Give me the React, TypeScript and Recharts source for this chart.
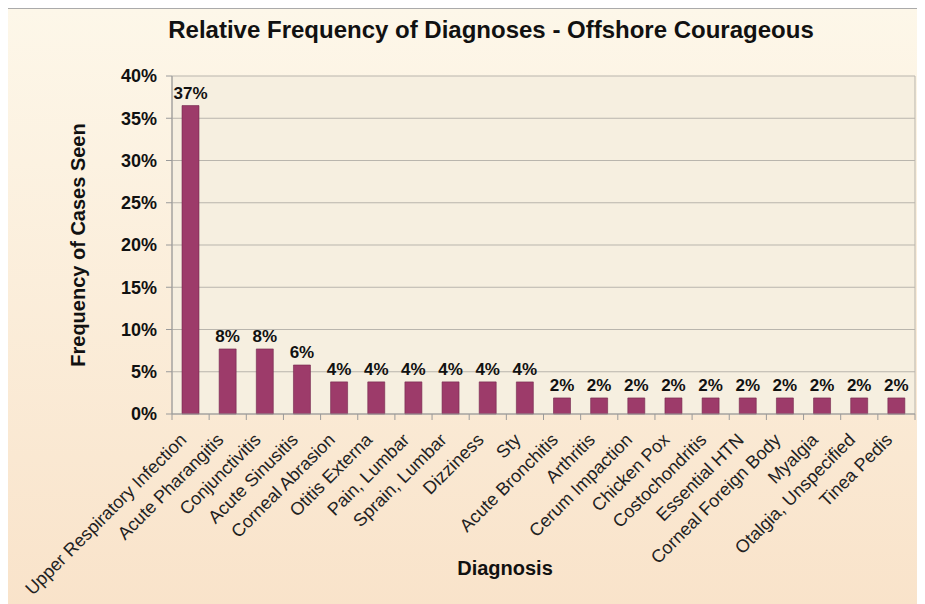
import { BarChart, Bar, XAxis, YAxis, CartesianGrid, LabelList, Label } from "recharts";

const diagnoses = [
  "Upper Respiratory Infection",
  "Acute Pharangitis",
  "Conjunctivitis",
  "Acute Sinusitis",
  "Corneal Abrasion",
  "Otitis Externa",
  "Pain, Lumbar",
  "Sprain, Lumbar",
  "Dizziness",
  "Sty",
  "Acute Bronchitis",
  "Arthritis",
  "Cerum Impaction",
  "Chicken Pox",
  "Costochondritis",
  "Essential HTN",
  "Corneal Foreign Body",
  "Myalgia",
  "Otalgia, Unspecified",
  "Tinea Pedis",
];

const frequency = [
  0.365, 0.077, 0.077, 0.058, 0.038, 0.038, 0.038, 0.038, 0.038, 0.038,
  0.019, 0.019, 0.019, 0.019, 0.019, 0.019, 0.019, 0.019, 0.019, 0.019,
];

const yTicks = [0, 0.05, 0.1, 0.15, 0.2, 0.25, 0.3, 0.35, 0.4];

const data = diagnoses.map((name, i) => ({ name, value: frequency[i] }));

const W = 918;
const H = 595;
const Y_AXIS_W = 164;
const RIGHT = 11;
const band = (W - Y_AXIS_W - RIGHT) / diagnoses.length;
const FONT = "'Liberation Sans', Arial, sans-serif";

const pct = (v: number) => `${Math.round(v * 100)}%`;

function XTick({ x, y, payload, index }: any) {
  const half = band / 2;
  return (
    <g>
      <line x1={x - half} x2={x - half} y1={y} y2={y + 6} stroke="#9a9a9a" />
      {index === diagnoses.length - 1 && (
        <line x1={x + half} x2={x + half} y1={y} y2={y + 6} stroke="#9a9a9a" />
      )}
      <text
        transform={`translate(${x - 3},${y + 27}) rotate(-45)`}
        textAnchor="end"
        fontSize={18}
        fill="#222"
        fontFamily={FONT}
      >
        {payload.value}
      </text>
    </g>
  );
}

export default function App() {
  return (
    <div
      style={{
        position: "relative",
        marginLeft: -1,
        width: 930,
        height: 600,
        borderTop: "1px solid #aaa",
        borderLeft: "1px solid #aaa",
        background: "linear-gradient(to bottom, #fdf7e9, #f9e3ca)",
        fontFamily: FONT,
      }}
    >
      <div
        style={{
          position: "absolute",
          left: 0,
          top: 7,
          width: 966,
          textAlign: "center",
          fontSize: 24,
          fontWeight: "bold",
          color: "#111",
        }}
      >
        Relative Frequency of Diagnoses - Offshore Courageous
      </div>
      <div style={{ position: "absolute", left: 0, top: 0 }}>
        <BarChart
          width={W}
          height={H}
          data={data}
          margin={{ top: 67, right: RIGHT, left: 0, bottom: 0 }}
          barSize={17}
        >
          <CartesianGrid
            fill="#f6efe0"
            stroke="#b9b5ad"
            verticalCoordinatesGenerator={({ offset }: any) => [
              offset.left,
              offset.left + offset.width,
            ]}
          />
          <XAxis
            dataKey="name"
            interval={0}
            height={H - 67 - 338}
            tickSize={0}
            tickMargin={0}
            tickLine={false}
            axisLine={{ stroke: "#9a9a9a" }}
            tick={<XTick />}
          >
            <Label
              content={() => (
                <text
                  x={497}
                  y={566}
                  textAnchor="middle"
                  fontSize={20}
                  fontWeight="bold"
                  fill="#111"
                  fontFamily={FONT}
                >
                  Diagnosis
                </text>
              )}
            />
          </XAxis>
          <YAxis
            width={Y_AXIS_W}
            domain={[0, 0.4]}
            ticks={yTicks}
            tickFormatter={pct}
            tickSize={6}
            tickMargin={9}
            axisLine={{ stroke: "#9a9a9a" }}
            tickLine={{ stroke: "#9a9a9a" }}
            tick={{ fontSize: 18, fontWeight: "bold", fill: "#111", fontFamily: FONT }}
          >
            <Label
              content={({ viewBox }: any) => {
                const cy = viewBox.y + viewBox.height / 2;
                return (
                  <text
                    transform={`translate(77,${cy}) rotate(-90)`}
                    textAnchor="middle"
                    fontSize={20}
                    fontWeight="bold"
                    fill="#111"
                    fontFamily={FONT}
                  >
                    Frequency of Cases Seen
                  </text>
                );
              }}
            />
          </YAxis>
          <Bar dataKey="value" fill="#9d3b6a" stroke="#72264c" strokeWidth={0.6} isAnimationActive={false}>
            <LabelList
              dataKey="value"
              position="top"
              offset={7}
              formatter={(v: any) => pct(Number(v))}
              style={{ fontSize: 17, fontWeight: "bold", fill: "#111", fontFamily: FONT }}
            />
          </Bar>
        </BarChart>
      </div>
    </div>
  );
}
